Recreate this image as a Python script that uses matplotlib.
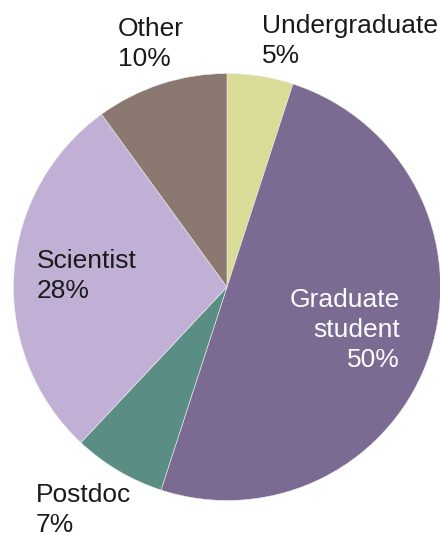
import matplotlib
matplotlib.use('Agg')
import matplotlib.pyplot as plt

# Data (clockwise from 12 o'clock)
categories = ['Undergraduate', 'Graduate\nstudent', 'Postdoc', 'Scientist', 'Other']
shares = [5, 50, 7, 28, 10]
colors = ['#d8dc96', '#7b6b92', '#5a8e84', '#c2afd6', '#8a7871']

W, H = 440, 536
fig = plt.figure(figsize=(W / 100, H / 100), dpi=100)

# Pie centre (227, 287) px, radius ~213 px
cx, cy, r = 227, 287, 213.5
ax = fig.add_axes([(cx - r) / W, (H - cy - r) / H, 2 * r / W, 2 * r / H])
ax.pie(shares, colors=colors, startangle=90, counterclock=False, radius=1,
       wedgeprops=dict(linewidth=0.4, edgecolor='#eeeeee'))
ax.set_xlim(-1, 1)
ax.set_ylim(-1, 1)
ax.set_aspect('equal')
ax.axis('off')

plt.rcParams['font.family'] = ['Liberation Sans', 'DejaVu Sans']
fs = 19
step = 30  # px between baselines


def label(x, y, name, share, ha='left', color='#1a1a1a'):
    lines = name.split('\n') + [f'{share}%']
    for i, s in enumerate(lines):
        fig.text(x / W, 1 - (y + i * step) / H, s, ha=ha, va='baseline',
                 fontsize=fs, color=color)


# label positions in pixels (left/right x, first-line baseline y)
label(262, 33, categories[0], shares[0])
label(118, 36, categories[4], shares[4])
label(37, 268, categories[3], shares[3])
label(400, 307, categories[1], shares[1], ha='right', color='white')
label(36, 502, categories[2], shares[2])

fig.savefig('out.png', dpi=100)
